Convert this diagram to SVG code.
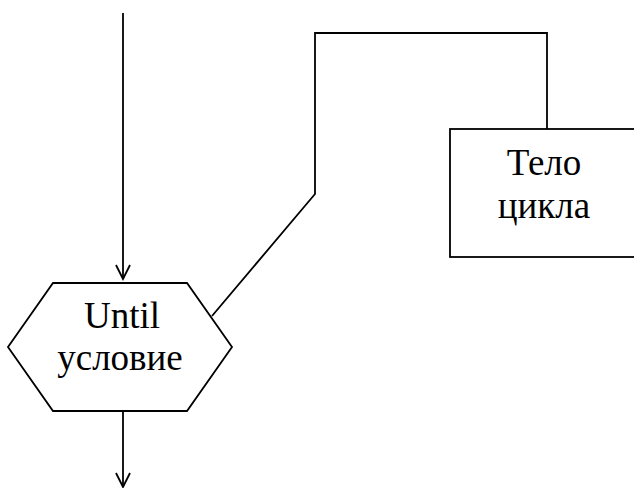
<svg xmlns="http://www.w3.org/2000/svg" width="634" height="488" viewBox="0 0 634 488">
<style>
.ln{fill:none;stroke:#000;stroke-width:1.8}
.sh{fill:#fff;stroke:#000;stroke-width:1.8}
.t{font-family:"Liberation Serif",serif;font-size:37px;fill:#000;text-anchor:middle}
</style>
<g id="connectors">
<path class="ln" d="M123,13 V279"/>
<path class="ln" d="M116,265 L123,279 L130,265"/>
<path class="ln" d="M123,411 V487"/>
<path class="ln" d="M116,473 L123,487 L130,473"/>
<path class="ln" d="M212,316 L315,194 V33 H547 V129"/>
</g>
<g id="until">
<polygon class="sh" points="53,283 187,283 232,347 187,411 53,411 8,347"/>
<text class="t" x="122" y="328">Until</text>
<text class="t" x="120" y="370">условие</text>
</g>
<g id="body">
<rect class="sh" x="450" y="129" width="186" height="128"/>
<text class="t" x="544" y="175">Тело</text>
<text class="t" x="544" y="218">цикла</text>
</g>
</svg>
